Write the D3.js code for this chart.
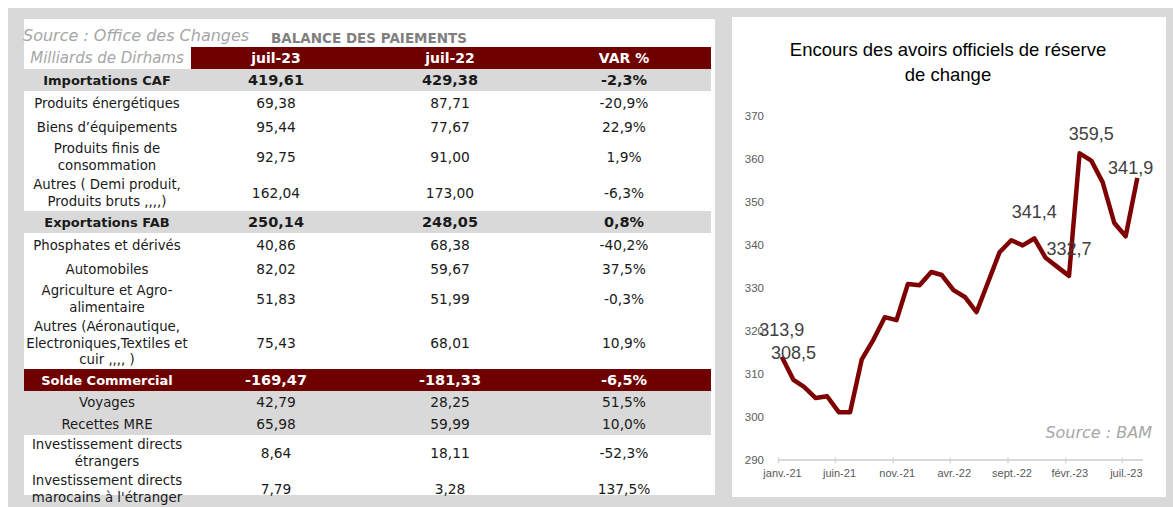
<!DOCTYPE html>
<html>
<head>
<meta charset="utf-8">
<script src="https://cdn.jsdelivr.net/npm/d3@7"></script>
<style>
  body { margin: 0; background: #ffffff; }
</style>
</head>
<body>
<div id="my_dataviz"></div>
<script>
// ---- Table data (Balance des paiements, milliards de dirhams)
var rowLabels = [
    "Importations CAF",
    "Produits énergétiques",
    "Biens d’équipements",
    "Produits finis de\nconsommation",
    "Autres ( Demi produit,\nProduits bruts ,,,,)",
    "Exportations FAB",
    "Phosphates et dérivés",
    "Automobiles",
    "Agriculture et Agro-\nalimentaire",
    "Autres (Aéronautique,\nElectroniques,Textiles et\ncuir ,,,, )",
    "Solde Commercial",
    "Voyages",
    "Recettes MRE",
    "Investissement directs\nétrangers",
    "Investissement directs\nmarocains à l'étranger"
];
var rowKinds = ["total", "detail", "detail", "detail", "detail", "total", "detail", "detail",
    "detail", "detail", "solde", "flux", "flux", "detail", "detail"];
var valuesJul23 = [419.61, 69.38, 95.44, 92.75, 162.04, 250.14, 40.86, 82.02, 51.83, 75.43,
    -169.47, 42.79, 65.98, 8.64, 7.79];
var valuesJul22 = [429.38, 87.71, 77.67, 91.00, 173.00, 248.05, 68.38, 59.67, 51.99, 68.01,
    -181.33, 28.25, 59.99, 18.11, 3.28];
var varPct = [-2.3, -20.9, 22.9, 1.9, -6.3, 0.8, -40.2, 37.5, -0.3, 10.9, -6.5, 51.5, 10.0,
    -52.3, 137.5];
var headerLabels = ["juil-23", "juil-22", "VAR %"];

// ---- Chart data (encours des avoirs officiels de réserve, mois)
var months = ["2021-01", "2021-02", "2021-03", "2021-04", "2021-05", "2021-06", "2021-07", "2021-08",
    "2021-09", "2021-10", "2021-11", "2021-12", "2022-01", "2022-02", "2022-03", "2022-04",
    "2022-05", "2022-06", "2022-07", "2022-08", "2022-09", "2022-10", "2022-11", "2022-12",
    "2023-01", "2023-02", "2023-03", "2023-04", "2023-05", "2023-06", "2023-07", "2023-08"];
var reserves = [313.9, 308.5, 306.9, 304.3, 304.7, 301.0, 301.0, 313.3, 317.9, 323.1, 322.4, 330.8,
    330.5, 333.6, 332.9, 329.4, 327.8, 324.3, 331.1, 338.2, 341.0, 339.8, 341.4, 336.9,
    334.8, 332.7, 361.2, 359.5, 354.5, 345.0, 341.9, 355.5];
var labelledPoints = [0, 1, 22, 25, 27, 30];
var yTicks = [290, 300, 310, 320, 330, 340, 350, 360, 370];
var xTicks = ["2021-01", "2021-06", "2021-11", "2022-04", "2022-09", "2023-02", "2023-07"];

// French locale for numbers and month names
var fr = d3.formatLocale({ decimal: ",", thousands: " ", grouping: [3], currency: ["", " €"], minus: "-" });
var frTime = d3.timeFormatLocale({
    dateTime: "%A %e %B %Y", date: "%d/%m/%Y", time: "%H:%M:%S", periods: ["AM", "PM"],
    days: ["dimanche", "lundi", "mardi", "mercredi", "jeudi", "vendredi", "samedi"],
    shortDays: ["dim.", "lun.", "mar.", "mer.", "jeu.", "ven.", "sam."],
    months: ["janvier", "février", "mars", "avril", "mai", "juin", "juillet", "août", "septembre", "octobre", "novembre", "décembre"],
    shortMonths: ["janv.", "févr.", "mars", "avr.", "mai", "juin", "juil.", "août", "sept.", "oct.", "nov.", "déc."]
});
var parseMonth = d3.timeParse("%Y-%m");
var fmt2 = fr.format(".2f"), fmt1 = fr.format(".1f");

var maroon = "#6f0000", lineRed = "#7f0000", grey = "#d9d9d9";
var tableFont = "'DejaVu Sans', sans-serif", chartFont = "'Liberation Sans', Arial, sans-serif";

var svg = d3.select("#my_dataviz")
    .append("svg")
    .attr("width", 1173)
    .attr("height", 507)
    .style("display", "block");

// Grey frame with two white panels
svg.append("rect").attr("x", 8).attr("y", 8).attr("width", 1165).attr("height", 499).attr("fill", grey);
svg.append("rect").attr("x", 24).attr("y", 19).attr("width", 691).attr("height", 476).attr("fill", "#fff");
svg.append("rect").attr("x", 732).attr("y", 17).attr("width", 434).attr("height", 480).attr("fill", "#fff");

// ================= TABLE =================
var table = svg.append("g");
var colX = [107, 276, 450, 624];
var tableLeft = 24, tableRight = 711, lineH = 16.5;

// Titles above the table
table.append("text")
    .attr("x", 23).attr("y", 41)
    .style("font-family", tableFont).style("font-style", "italic").style("font-size", "16px")
    .style("fill", "#a6a6a6")
    .text("Source : Office des Changes");
table.append("text")
    .attr("x", 271).attr("y", 43)
    .style("font-family", tableFont).style("font-weight", "bold").style("font-size", "13.5px")
    .style("fill", "#7f7f7f")
    .text("BALANCE DES PAIEMENTS");

// Header row
table.append("rect")
    .attr("x", 191).attr("y", 47).attr("width", tableRight - 191).attr("height", 22)
    .attr("fill", maroon);
table.append("text")
    .attr("x", colX[0]).attr("y", 58).attr("dy", "0.35em").attr("text-anchor", "middle")
    .style("font-family", tableFont).style("font-style", "italic").style("font-size", "15px")
    .style("fill", "#a6a6a6")
    .text("Milliards de Dirhams");
table.selectAll(".head")
    .data(headerLabels)
    .enter()
    .append("text")
    .attr("x", function (d, i) { return colX[i + 1]; })
    .attr("y", 58).attr("dy", "0.35em").attr("text-anchor", "middle")
    .style("font-family", tableFont).style("font-weight", "bold").style("font-size", "14px")
    .style("fill", "#fff")
    .text(function (d) { return d; });

// Body rows: height depends on the number of label lines
var rows = rowLabels.map(function (label, i) {
    var lines = label.split("\n");
    var kind = rowKinds[i];
    var h = kind === "detail" ? (lines.length === 1 ? 24 : lines.length === 2 ? 36 : 52) : 22;
    return { lines: lines, kind: kind, h: h, v23: valuesJul23[i], v22: valuesJul22[i], pct: varPct[i] };
});
var yCur = 69;
rows.forEach(function (r) { r.y = yCur; yCur += r.h; });

table.selectAll(".rowbg")
    .data(rows.filter(function (r) { return r.kind !== "detail"; }))
    .enter()
    .append("rect")
    .attr("x", tableLeft).attr("y", function (d) { return d.y; })
    .attr("width", tableRight - tableLeft).attr("height", function (d) { return d.h; })
    .attr("fill", function (d) { return d.kind === "solde" ? maroon : grey; });

// bottom of the frame cuts the last row, its text runs over it
svg.append("rect").attr("x", 8).attr("y", 495).attr("width", 716).attr("height", 12).attr("fill", grey);

var rowG = svg.append("g").selectAll(".row")
    .data(rows)
    .enter()
    .append("g")
    .attr("transform", function (d) { return "translate(0," + (d.y + d.h / 2) + ")"; })
    .style("font-family", tableFont)
    .style("font-weight", function (d) { return d.kind === "total" || d.kind === "solde" ? "bold" : "normal"; })
    .style("fill", function (d) { return d.kind === "solde" ? "#fff" : "#1a1a1a"; })
    .attr("text-anchor", "middle");

rowG.each(function (d) {
    var g = d3.select(this);
    var n = d.lines.length;
    var bold = d.kind === "total" || d.kind === "solde";
    d.lines.forEach(function (line, j) {
        g.append("text")
            .attr("x", colX[0])
            .attr("y", (j - (n - 1) / 2) * lineH)
            .attr("dy", "0.35em")
            .style("font-size", bold ? "13px" : "13.3px")
            .text(line);
    });
    [fmt2(d.v23), fmt2(d.v22), fmt1(d.pct) + "%"].forEach(function (t, k) {
        g.append("text")
            .attr("x", colX[k + 1]).attr("y", 0).attr("dy", "0.35em")
            .style("font-size", bold ? "14.5px" : "13.8px")
            .text(t);
    });
});

// ================= LINE CHART =================
var chart = svg.append("g");

chart.append("text")
    .attr("x", 948).attr("y", 56).attr("text-anchor", "middle")
    .style("font-family", chartFont).style("font-size", "18.5px").style("fill", "#000")
    .text("Encours des avoirs officiels de réserve");
chart.append("text")
    .attr("x", 948).attr("y", 81).attr("text-anchor", "middle")
    .style("font-family", chartFont).style("font-size", "18.5px").style("fill", "#000")
    .text("de change");

var x = d3.scaleTime()
    .domain([parseMonth("2021-01"), new Date(2023, 7, 26)])
    .range([778, 1143]);
var y = d3.scaleLinear()
    .domain([290, 370])
    .range([459.5, 115.5]);

// Y axis: labels only
chart.append("g")
    .attr("transform", "translate(772,0)")
    .style("font-family", chartFont).style("font-size", "11.5px")
    .call(d3.axisLeft(y).tickValues(yTicks).tickSize(0).tickPadding(8).tickFormat(d3.format("d")))
    .call(function (g) { g.select(".domain").remove(); })
    .selectAll("text").style("fill", "#595959");

// X axis
var xAxis = chart.append("g")
    .attr("transform", "translate(0," + y(290) + ")")
    .style("font-family", chartFont).style("font-size", "11px")
    .call(d3.axisBottom(x)
        .tickValues(xTicks.map(parseMonth))
        .tickSize(4).tickPadding(6)
        .tickFormat(frTime.format("%b-%y")));
xAxis.select(".domain").attr("d", "M778,0.5H1143").attr("stroke", grey).attr("stroke-width", 2);
xAxis.selectAll(".tick line").attr("stroke", grey).attr("stroke-width", 1.5).attr("y1", -2);
xAxis.selectAll(".tick text").attr("dx", 4).style("fill", "#595959");

// Line
var points = months.map(function (m, i) {
    return { date: d3.timeDay.offset(parseMonth(m), 10), value: reserves[i] };
});
chart.append("path")
    .datum(points)
    .attr("fill", "none")
    .attr("stroke", lineRed)
    .attr("stroke-width", 4.5)
    .attr("stroke-linejoin", "round")
    .attr("d", d3.line()
        .x(function (d) { return x(d.date); })
        .y(function (d) { return y(d.value); }));

// Data labels (last one was moved by hand in the original)
var labelShift = { 30: [5, -69] };
chart.selectAll(".dlabel")
    .data(labelledPoints)
    .enter()
    .append("text")
    .attr("x", function (i) { return x(points[i].date) + (labelShift[i] ? labelShift[i][0] : 0); })
    .attr("y", function (i) { return y(points[i].value) + (labelShift[i] ? labelShift[i][1] : -27); })
    .attr("dy", "0.35em")
    .attr("text-anchor", "middle")
    .style("font-family", chartFont).style("font-size", "18px").style("fill", "#404040")
    .text(function (i) { return fmt1(points[i].value); });

chart.append("text")
    .attr("x", 1152).attr("y", 432).attr("dy", "0.35em").attr("text-anchor", "end")
    .style("font-family", tableFont).style("font-style", "italic").style("font-size", "16px")
    .style("fill", "#a6a6a6")
    .text("Source : BAM");
</script>
</body>
</html>
